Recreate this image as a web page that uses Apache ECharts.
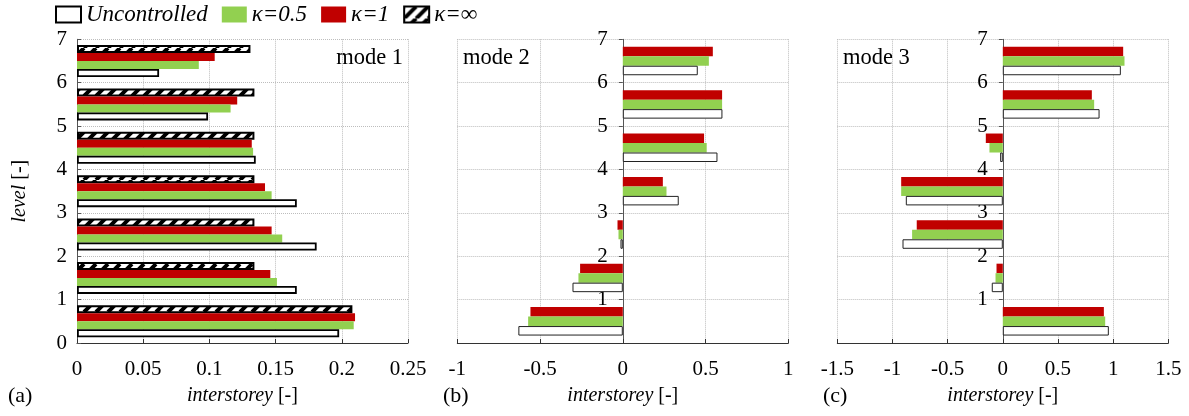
<!DOCTYPE html>
<html><head><meta charset="utf-8">
<script src="https://cdn.jsdelivr.net/npm/echarts@6/dist/echarts.min.js"></script>
<style>html,body{margin:0;padding:0;background:#fff}#c{width:1189px;height:416px}</style>
</head><body><div id="c"></div>
<script>
// ---- data ----
const levels = ['1', '2', '3', '4', '5', '6', '7'];
const seriesNames = ['Uncontrolled', 'κ=0.5', 'κ=1', 'κ=∞'];
const panelLetters = ['(a)', '(b)', '(c)'];
const modeTitles = ['mode 1', 'mode 2', 'mode 3'];
const xRanges = [[0, 0.25, 0.05], [-1, 1, 0.5], [-1.5, 1.5, 0.5]];
const yRange = [0, 7, 1];

const mode1Unc  = [0.198, 0.166, 0.181, 0.166, 0.135, 0.099, 0.062];
const mode1K05  = [0.209, 0.151, 0.155, 0.147, 0.133, 0.116, 0.092];
const mode1K1   = [0.210, 0.146, 0.147, 0.142, 0.132, 0.121, 0.104];
const mode1KInf = [0.208, 0.134, 0.134, 0.134, 0.134, 0.134, 0.131];

const mode2Unc = [-0.631, -0.304, -0.014, 0.338, 0.572, 0.602, 0.453];
const mode2K05 = [-0.572, -0.268, -0.026, 0.264, 0.507, 0.600, 0.520];
const mode2K1  = [-0.558, -0.258, -0.032, 0.242, 0.491, 0.600, 0.544];

const mode3Unc = [0.961, -0.100, -0.909, -0.879, -0.024, 0.877, 1.070];
const mode3K05 = [0.928, -0.066, -0.822, -0.921, -0.121, 0.828, 1.103];
const mode3K1  = [0.916, -0.057, -0.780, -0.921, -0.154, 0.807, 1.091];

// ---- styling ----
const FONT = 'Liberation Serif';
const GREEN = '#92D050', RED = '#C00000';
const hatch = document.createElement('canvas');
hatch.width = 12; hatch.height = 12;
(function () {
  const g = hatch.getContext('2d');
  g.fillStyle = '#fff'; g.fillRect(0, 0, 12, 12);
  g.strokeStyle = '#000'; g.lineWidth = 4;
  g.beginPath();
  for (let k = -12; k <= 24; k += 12) { g.moveTo(k, 12); g.lineTo(k + 12, 0); }
  g.stroke();
})();
const hatchFill = { image: hatch, repeat: 'repeat' };

const gridLefts = [77, 457.3, 837.3];
const gridW = 331, gridTop = 39.3, gridH = 303.7;

const chart = echarts.init(document.getElementById('c'), null, { renderer: 'canvas' });

const grids = [], xAxes = [], yAxes = [], series = [];
const dotted = { show: true, lineStyle: { color: '#bdbdbd', type: 'dotted', width: 1 } };
const nameStyle = { color: '#000', fontFamily: FONT, fontSize: 20,
  rich: { i: { fontStyle: 'italic', fontFamily: FONT, fontSize: 20, color: '#000' },
          n: { fontFamily: FONT, fontSize: 20, color: '#000' } } };

for (let p = 0; p < 3; p++) {
  const [xmin, xmax, xint] = xRanges[p];
  grids.push({ left: gridLefts[p], top: gridTop, width: gridW, height: gridH });
  xAxes.push({
    type: 'value', gridIndex: p, position: 'bottom', min: xmin, max: xmax, interval: xint,
    axisLine: { show: true, onZero: false, lineStyle: { color: '#333', width: 1 } },
    axisTick: { show: true, inside: true, length: 4, lineStyle: { color: '#333' } },
    axisLabel: { color: '#000', fontFamily: FONT, fontSize: 21, margin: 16 },
    splitLine: dotted,
    name: '{i|interstorey}{n| [-]}', nameLocation: 'middle', nameGap: 43,
    nameTextStyle: nameStyle
  });
  // hidden category axis for bars
  yAxes.push({ type: 'category', gridIndex: p, position: 'left', data: levels, show: false,
    axisLine: { onZero: false } });
  // visible value axis for levels, shifted so it sits on x = 0
  yAxes.push({
    type: 'value', gridIndex: p, position: 'left', min: yRange[0], max: yRange[1], interval: yRange[2],
    offset: -gridW * (0 - xmin) / (xmax - xmin),
    axisLine: { show: true, onZero: false, lineStyle: { color: '#555', width: 1 } },
    axisTick: { show: true, inside: p === 0, length: 4, lineStyle: { color: '#555' } },
    axisLabel: { color: '#000', fontFamily: FONT, fontSize: 21, margin: p === 0 ? 10 : 15,
      padding: [5, 0, 0, 0], showMinLabel: p === 0 },
    splitLine: dotted,
    name: p === 0 ? '{i|level}{n| [-]}' : '', nameLocation: 'middle', nameGap: 47,
    nameTextStyle: nameStyle
  });
}

function bar(name, p, data, style, w) {
  return { type: 'bar', name, xAxisIndex: p, yAxisIndex: p * 2, data, barWidth: w, barGap: '0%',
    itemStyle: style, emphasis: { disabled: true }, animation: false };
}
const uncStyle1 = { color: '#fff', borderColor: '#000', borderWidth: 1.8 };
const uncStyle = { color: '#fff', borderColor: '#222', borderWidth: 1 };
const infStyle = { color: hatchFill, borderColor: '#000', borderWidth: 2 };

// side-by-side horizontal bars are laid out top-down, so add the top series first
series.push(bar(seriesNames[3], 0, mode1KInf, infStyle, 8));
series.push(bar(seriesNames[2], 0, mode1K1, { color: RED }, 8));
series.push(bar(seriesNames[1], 0, mode1K05, { color: GREEN }, 8));
series.push(bar(seriesNames[0], 0, mode1Unc, uncStyle1, 8));
series.push(bar(seriesNames[2], 1, mode2K1, { color: RED }, 9.5));
series.push(bar(seriesNames[1], 1, mode2K05, { color: GREEN }, 9.5));
series.push(bar(seriesNames[0], 1, mode2Unc, uncStyle, 9.5));
series.push(bar(seriesNames[2], 2, mode3K1, { color: RED }, 9.5));
series.push(bar(seriesNames[1], 2, mode3K05, { color: GREEN }, 9.5));
series.push(bar(seriesNames[0], 2, mode3Unc, uncStyle, 9.5));

const graphics = [];
const letterX = [8, 443, 823];
const modeX = [403, 463, 843];
for (let p = 0; p < 3; p++) {
  graphics.push({ type: 'text', left: letterX[p], top: 385,
    style: { text: panelLetters[p], fill: '#000', font: '22px ' + FONT } });
  graphics.push({ type: 'text', x: modeX[p], y: 58,
    style: { text: modeTitles[p], fill: '#000', font: '22.5px ' + FONT,
      textAlign: p === 0 ? 'right' : 'left', textVerticalAlign: 'middle' } });
}

chart.setOption({
  animation: false,
  backgroundColor: '#fff',
  grid: grids, xAxis: xAxes, yAxis: yAxes, series,
  legend: {
    data: seriesNames, left: 55, top: 3, padding: 0, icon: 'rect', itemWidth: 25, itemHeight: 16, itemGap: 14,
    selectedMode: false,
    textStyle: { fontFamily: FONT, fontStyle: 'italic', fontSize: 23, color: '#000' }
  },
  graphic: graphics
});
</script></body></html>
